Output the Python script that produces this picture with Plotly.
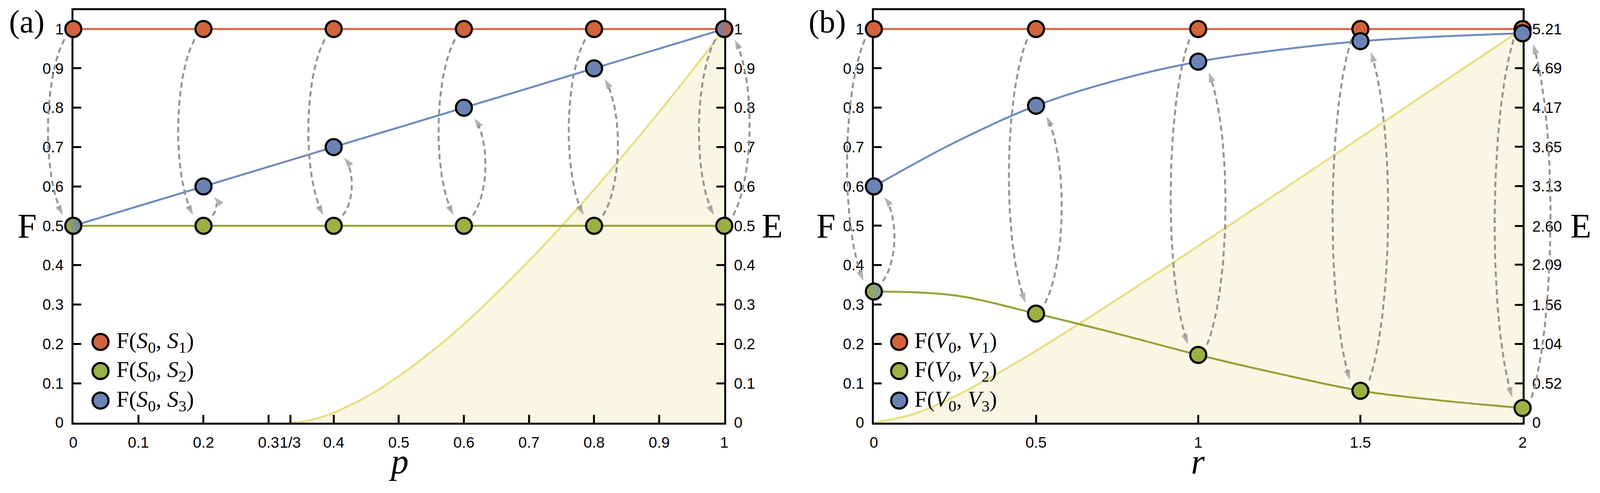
import math
import plotly.graph_objects as go

# panel (a): fidelities against p, entanglement curve on the right axis
p_vals = [0, 0.2, 0.4, 0.6, 0.8, 1.0]
a_f01 = [1, 1, 1, 1, 1, 1]
a_f02 = [0.5, 0.5, 0.5, 0.5, 0.5, 0.5]
a_f03 = [0.5, 0.6, 0.7, 0.8, 0.9, 1.0]
p_ent = [0.3333, 0.35, 0.375, 0.4, 0.425, 0.45, 0.5, 0.55, 0.6, 0.65, 0.7,
         0.75, 0.8, 0.85, 0.9, 0.95, 1.0]
a_ent = [0, 0.002, 0.011, 0.025, 0.044, 0.065, 0.118, 0.180, 0.250, 0.328,
         0.411, 0.499, 0.592, 0.689, 0.789, 0.893, 1.0]
p_ticks = [0, 0.1, 0.2, 0.3, 1 / 3, 0.4, 0.5, 0.6, 0.7, 0.8, 0.9, 1]
p_ticktext = ["0", "0.1", "0.2", "0.3", "1/3", "0.4", "0.5", "0.6", "0.7",
              "0.8", "0.9", "1"]
a_eticks = ["0", "0.1", "0.2", "0.3", "0.4", "0.5", "0.6", "0.7", "0.8",
            "0.9", "1"]

# panel (b): fidelities against r
r_vals = [0, 0.5, 1, 1.5, 2]
b_f01 = [1, 1, 1, 1, 1]
b_f02 = [0.333, 0.277, 0.172, 0.081, 0.037]
b_f03 = [0.600, 0.805, 0.917, 0.969, 0.989]
r_fine = [0, 0.25, 0.5, 0.75, 1, 1.25, 1.5, 1.75, 2]
b_f02_fine = [0.333, 0.323, 0.277, 0.226, 0.172, 0.124, 0.081, 0.056, 0.037]
b_f03_fine = [0.600, 0.712, 0.805, 0.870, 0.917, 0.947, 0.969, 0.981, 0.989]
r_ent = [0, 0.125, 0.25, 0.375, 0.5, 0.75, 1, 1.25, 1.5, 1.75, 2]
b_ent = [0, 0.117, 0.348, 0.635, 0.951, 1.631, 2.337, 3.053, 3.772, 4.493, 5.21]
r_ticks = [0, 0.5, 1, 1.5, 2]
b_eticks = ["0", "0.52", "1.04", "1.56", "2.09", "2.60", "3.13", "3.65",
            "4.17", "4.69", "5.21"]
f_ticks = ["0", "0.1", "0.2", "0.3", "0.4", "0.5", "0.6", "0.7", "0.8", "0.9", "1"]

RED, GREEN, BLUE = "#D2633C", "#9BB141", "#6A83B4"
RED_L, GREEN_L, BLUE_L = "#D5663E", "#98A036", "#6F8BBF"
YEL_L, YEL_F = "#E8DE7E", "#F9F6E4"
GRAY = "#939393"

# positions measured on the 4266 px wide reference; the browser viewport is 4096 wide
REF_W, H = 4266, 1262
W = 4096
FX = W / REF_W
Y0_PX, TOP_PX, ONE_PX = 1101, 26, 75.5
YMAX = (Y0_PX - TOP_PX) / (Y0_PX - ONE_PX)
PANEL_A = (185, 1930)
PANEL_B = (2331, 4070)
PAD = 130  # extra room for the arrow layer
SY = Y0_PX - ONE_PX

ydom = [1 - Y0_PX / H, 1 - TOP_PX / H]


def xdom(px):
    return [px[0] / REF_W, px[1] / REF_W]


def arrow(x, y_from, y_to, side, sx):
    up = 1 if y_to > y_from else -1
    x0, y0 = side * 24 * FX, y_from * SY + up * 27
    x3, y3 = side * 28 * FX, y_to * SY - up * 28
    span = abs(y3 - y0)
    k = FX * 50 * (1 - math.exp(-span / 250)) / 0.75
    x1, y1 = x0 + side * k, y0 + up * 0.22 * span
    x2, y2 = x3 + side * k, y3 - up * 0.22 * span
    pts = []
    for i in range(61):
        t = i / 60
        a, b, c, d = (1 - t) ** 3, 3 * t * (1 - t) ** 2, 3 * t * t * (1 - t), t ** 3
        pts.append((a * x0 + b * x1 + c * x2 + d * x3, a * y0 + b * y1 + c * y2 + d * y3))
    line = [q for q in pts if math.hypot(q[0] - x3, q[1] - y3) > 16]
    lx = [x + q[0] / sx for q in line]
    ly = [q[1] / SY for q in line]
    hx = [x + pts[-2][0] / sx, x + x3 / sx]
    hy = [pts[-2][1] / SY, y3 / SY]
    return lx, ly, hx, hy


fig = go.Figure()


def add_panel(xs, f01, f02, f03, fx, f02l, f03l, ex, ey, ax, sx, grad):
    xa, ye, yf, xo, yo = ax
    # entanglement on the base axis so it stays underneath
    fig.add_trace(go.Scatter(x=ex, y=ey, mode="lines", line=dict(color=YEL_L, width=5, shape="spline"),
                             fill="tozeroy", fillcolor=YEL_F, xaxis=xa, yaxis=ye,
                             showlegend=False, hoverinfo="skip"))
    for yv, col in [(f01, RED_L), (f02l, GREEN_L), (f03l, BLUE_L)]:
        xv = xs if len(yv) == len(xs) else fx
        fig.add_trace(go.Scatter(x=xv, y=yv, mode="lines", line=dict(color=col, width=5, shape="spline"),
                                 xaxis=xa, yaxis=yf, showlegend=False, hoverinfo="skip"))
    for i, x in enumerate(xs):
        moves = [(f01[i], f02[i], -1)]
        if abs(f03[i] - f02[i]) > 0.01:
            moves.append((f02[i], f03[i], 1))
        for y_from, y_to, side in moves:
            lx, ly, hx, hy = arrow(x, y_from, y_to, side, sx)
            fig.add_trace(go.Scatter(x=lx, y=ly, mode="lines", xaxis=xo, yaxis=yo,
                                     line=dict(color=GRAY, width=5, dash="14px,9px"),
                                     showlegend=False, hoverinfo="skip"))
            fig.add_trace(go.Scatter(x=hx, y=hy, mode="markers", xaxis=xo, yaxis=yo,
                                     marker=dict(symbol="arrow", size=[0, 27], angleref="previous",
                                                 color=GRAY, line=dict(width=0)),
                                     showlegend=False, hoverinfo="skip"))
    for yv, col, g in [(f01, RED, grad[0]), (f02, GREEN, grad[1]), (f03, BLUE, grad[2])]:
        colors = [col] * len(xs)
        gtype = ["none"] * len(xs)
        gcol = [col] * len(xs)
        for j, c0, c1 in g:
            colors[j], gcol[j], gtype[j] = c0, c1, "horizontal"
        fig.add_trace(go.Scatter(x=xs, y=yv, mode="markers", xaxis=xo, yaxis=yo,
                                 marker=dict(size=41, color=colors, line=dict(color="black", width=5.5),
                                             gradient=dict(type=gtype, color=gcol)),
                                 showlegend=False, hoverinfo="skip"))


add_panel(p_vals, a_f01, a_f02, a_f03, p_vals, a_f02, a_f03, p_ent, a_ent,
          ("x", "y", "y2", "x3", "y3"), (PANEL_A[1] - PANEL_A[0]) * FX,
          ([], [], [(0, GREEN, BLUE), (5, BLUE, RED)]))
add_panel(r_vals, b_f01, b_f02, b_f03, r_fine, b_f02_fine, b_f03_fine, r_ent, b_ent,
          ("x2", "y4", "y5", "x4", "y6"), (PANEL_B[1] - PANEL_B[0]) * FX / 2,
          ([], [(0, GREEN, "#7F9AA8")], []))

tickfont = dict(family="Liberation Sans, Arial, sans-serif", size=39, color="black")
axstyle = dict(showgrid=False, zeroline=False, showline=True, linecolor="black", linewidth=5,
               ticks="inside", ticklen=20, tickwidth=5, tickcolor="black", tickfont=tickfont,
               tickangle=0, ticklabelstandoff=12)
hidden = dict(visible=False, showgrid=False, zeroline=False)


def wide(px, lo, hi):
    sx = (px[1] - px[0]) / (hi - lo)
    return dict(domain=[(px[0] - PAD) / REF_W, (px[1] + PAD) / REF_W],
                range=[lo - PAD / sx, hi + PAD / sx])


fig.update_layout(
    width=W, height=H, margin=dict(l=0, r=0, t=0, b=0),
    paper_bgcolor="white", plot_bgcolor="rgba(0,0,0,0)",
    xaxis=dict(axstyle, domain=xdom(PANEL_A), range=[0, 1], anchor="y", mirror=True,
               tickvals=p_ticks, ticktext=p_ticktext),
    yaxis=dict(axstyle, domain=ydom, range=[0, YMAX], anchor="x", side="right",
               tickvals=[float(t) for t in a_eticks], ticktext=a_eticks),
    yaxis2=dict(axstyle, range=[0, YMAX], anchor="x", side="left", overlaying="y",
                tickvals=[float(t) for t in f_ticks], ticktext=f_ticks),
    xaxis3=dict(hidden, anchor="y3", **wide(PANEL_A, 0, 1)),
    yaxis3=dict(hidden, anchor="x3", domain=ydom, range=[0, YMAX]),
    xaxis2=dict(axstyle, domain=xdom(PANEL_B), range=[0, 2], anchor="y4", mirror=True,
                tickvals=r_ticks, ticktext=[f"{v:g}" for v in r_ticks]),
    yaxis4=dict(axstyle, domain=ydom, range=[0, 5.21 * YMAX], anchor="x2", side="right",
                tickvals=[float(t) for t in b_eticks], ticktext=b_eticks),
    yaxis5=dict(axstyle, range=[0, YMAX], anchor="x2", side="left", overlaying="y4",
                tickvals=[float(t) for t in f_ticks], ticktext=f_ticks),
    xaxis4=dict(hidden, anchor="y6", **wide(PANEL_B, 0, 2)),
    yaxis6=dict(hidden, anchor="x4", domain=ydom, range=[0, YMAX]),
)

serif = "Liberation Serif, Times New Roman, serif"
ann = []
for lab, x in [("(a)", 60), ("(b)", 2206)]:
    ann.append(dict(text=lab, x=x / REF_W, y=1 - 56 / H, xref="paper", yref="paper",
                    xanchor="center", yanchor="middle",
                    showarrow=False, font=dict(family=serif, size=82, color="black")))
for lab, x in [("F", 61), ("E", 2059), ("F", 2203), ("E", 4226)]:
    ann.append(dict(text=lab, x=x / REF_W, y=1 - 589 / H, xref="paper", yref="paper",
                    xanchor="center", yanchor="middle",
                    showarrow=False, font=dict(family=serif, size=88, color="black")))
for lab, xr in [("p", "x domain"), ("r", "x2 domain")]:
    ann.append(dict(text=f"<i>{lab}</i>", x=0.5, y=1 - 1202 / H, xref=xr, yref="paper",
                    xanchor="center", yanchor="middle",
                    showarrow=False, font=dict(family=serif, size=90, color="black")))

legend_rows = [0.205, 0.131, 0.056]
shapes = []
for xr, yr, cx, tx, sym in [("x domain", "y domain", 0.0418, 0.0648, "S"),
                            ("x2 domain", "y4 domain", 0.039, 0.0613, "V")]:
    for k, (yy, col) in enumerate(zip(legend_rows, [RED, GREEN, BLUE])):
        yd = yy / YMAX
        shapes.append(dict(type="circle", xref=xr, yref=yr, xsizemode="pixel", ysizemode="pixel",
                           xanchor=cx, yanchor=yd, x0=-20.5, x1=20.5, y0=-20.5, y1=20.5,
                           fillcolor=col, line=dict(color="black", width=5.5), layer="above"))
        ann.append(dict(text=f"F(<i>{sym}</i><sub>0</sub>, <i>{sym}</i><sub>{k + 1}</sub>)",
                        x=tx, y=yd, xref=xr, yref=yr, xanchor="left", yanchor="middle",
                        showarrow=False, font=dict(family=serif, size=58, color="black")))

fig.update_layout(annotations=ann, shapes=shapes)

fig.write_html("out.html", config={"displayModeBar": False},
               post_script="document.body.style.margin='0';")
